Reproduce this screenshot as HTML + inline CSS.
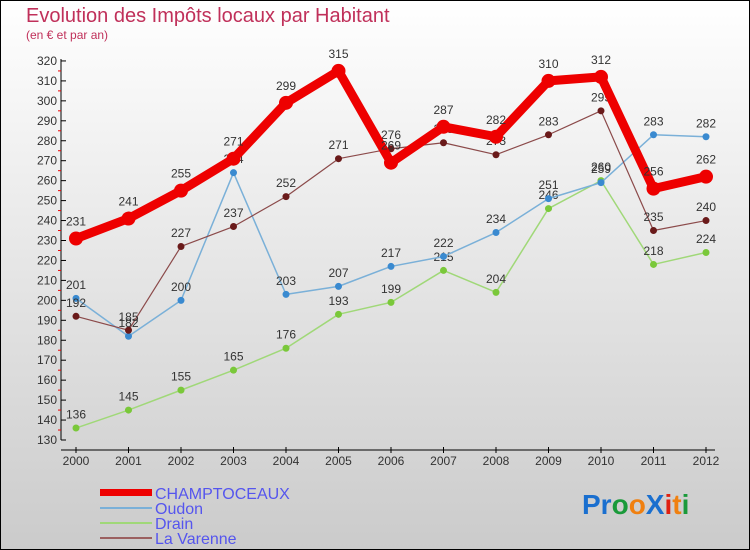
<!DOCTYPE html>
<html><head><meta charset="utf-8"><style>
body{margin:0;width:750px;height:550px;overflow:hidden}
svg{display:block;font-family:"Liberation Sans",sans-serif}
</style></head><body>
<svg id="c" width="750" height="550">
<defs><linearGradient id="bg" x1="0" y1="0" x2="0" y2="1"><stop offset="0" stop-color="#ffffff"/><stop offset="1" stop-color="#cbcbcb"/></linearGradient></defs>
<rect x="0.5" y="0.5" width="749" height="549" fill="url(#bg)" stroke="#000"/>
<text x="26" y="22" font-size="20" fill="#c0305a">Evolution des Impôts locaux par Habitant</text>
<text x="26" y="39" font-size="12" fill="#c0305a">(en € et par an)</text>
<g id="axes"></g><g id="series"></g>
<g>
<rect x="100" y="489" width="52" height="7" fill="#e00"/>
<text x="155" y="499" font-size="16" fill="#5555ee">CHAMPTOCEAUX</text>
<rect x="100" y="507" width="52" height="2" fill="#7ab0d8"/>
<text x="155" y="514" font-size="16" fill="#5555ee">Oudon</text>
<rect x="100" y="522" width="52" height="2" fill="#a0d878"/>
<text x="155" y="529" font-size="16" fill="#5555ee">Drain</text>
<rect x="100" y="537" width="52" height="2" fill="#9b6060"/>
<text x="155" y="544" font-size="16" fill="#5555ee">La Varenne</text>
</g>
<g font-size="28" font-weight="bold">
<text x="582" y="514"><tspan fill="#1a6fcf">Pr</tspan><tspan fill="#1a9a3a">o</tspan><tspan fill="#f08010">o</tspan><tspan fill="#1a6fcf">X</tspan><tspan fill="#e02010">i</tspan><tspan fill="#f08010">t</tspan><tspan fill="#1a9a3a">i</tspan></text>
</g>
</svg>
<script>
const years=[2000,2001,2002,2003,2004,2005,2006,2007,2008,2009,2010,2011,2012];
const champtoceaux=[231,241,255,271,299,315,269,287,282,310,312,256,262];
const oudon=[201,182,200,264,203,207,217,222,234,251,259,283,282];
const drain=[136,145,155,165,176,193,199,215,204,246,260,218,224];
const laVarenne=[192,185,227,237,252,271,276,279,273,283,295,235,240];
const yTicks=[130,140,150,160,170,180,190,200,210,220,230,240,250,260,270,280,290,300,310,320];
const NS="http://www.w3.org/2000/svg";
const xS=i=>76+i*52.5;
const yS=v=>440-(v-130)*1.995;
function mk(t,a,p){const e=document.createElementNS(NS,t);for(const k in a)e.setAttribute(k,a[k]);p.appendChild(e);return e;}
const ax=document.getElementById('axes');
const yl=mk('line',{x1:61,y1:yS(320)-2,x2:61,y2:yS(130),stroke:'#000'},ax);


yTicks.forEach(v=>{
 mk('line',{x1:61,y1:yS(v),x2:66,y2:yS(v),stroke:'#000'},ax);
 if(v<320)mk('line',{x1:58,y1:yS(v+5),x2:61,y2:yS(v+5),stroke:'#e00'},ax);
 const t=mk('text',{x:57,y:yS(v)+4,'text-anchor':'end','font-size':12,fill:'#333'},ax);
 t.textContent=v;
 
 
});
const xl=mk('line',{x1:61,y1:450,x2:715,y2:450,stroke:'#000'},ax);


years.forEach((y,i)=>{
 mk('line',{x1:xS(i),y1:447,x2:xS(i),y2:453,stroke:'#000'},ax);
 const t=mk('text',{x:xS(i),y:465,'text-anchor':'middle','font-size':12,fill:'#333'},ax);
 t.textContent=y;
 
 
});
const sg=document.getElementById('series');
function draw(vals,name,lc,pc,w,r){
 const g=mk('g',{},sg);
 
 
 const pl=mk('polyline',{points:vals.map((v,i)=>xS(i)+','+yS(v)).join(' '),fill:'none',stroke:lc,'stroke-width':w,'stroke-linejoin':'round'},g);
 
 
 vals.forEach((v,i)=>{
  const c=mk('circle',{cx:xS(i),cy:yS(v),r:r,fill:pc},g);
  
  
  const t=mk('text',{x:xS(i),y:yS(v)-(r+6),'text-anchor':'middle','font-size':12,fill:'#333'},g);
  t.textContent=v;
  
  
 });
}
draw(drain,'drain','#a0d878','#7ac83a',1.5,3.5);
draw(oudon,'oudon','#7ab0d8','#3a8ad0',1.5,3.5);
draw(laVarenne,'la-varenne','#8b4a4a','#6a1a1a',1.2,3.5);
draw(champtoceaux,'champtoceaux','#ee0000','#ee0000',9,7);
</script>
</body></html>
